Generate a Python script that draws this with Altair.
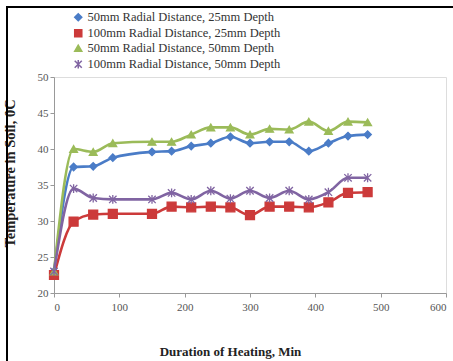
import altair as alt
import pandas as pd

minutes = [0, 30, 60, 90, 150, 180, 210, 240, 270, 300, 330, 360, 390, 420, 450, 480]
s1 = [23, 37.5, 37.6, 38.8, 39.6, 39.7, 40.4, 40.8, 41.7, 40.8, 41, 41, 39.7, 40.8, 41.8, 42]
s2 = [22.5, 29.9, 30.9, 31, 31, 32, 31.9, 32, 31.9, 30.8, 32, 32, 31.9, 32.6, 33.9, 34]
s3 = [23, 40, 39.6, 40.8, 41, 41, 42, 43, 43, 42, 42.8, 42.7, 43.8, 42.5, 43.8, 43.7]
s4 = [23, 34.5, 33.2, 33, 33, 33.9, 33, 34.2, 33.1, 34.2, 33.2, 34.2, 33, 34, 36, 36]

names = [
    "50mm Radial Distance, 25mm Depth",
    "100mm Radial Distance, 25mm Depth",
    "50mm Radial Distance, 50mm Depth",
    "100mm Radial Distance, 50mm Depth",
]
colors = ["#4a7cc7", "#cc3a3a", "#9bbb59", "#8064a2"]
shapes = ["diamond", "square", "triangle-up", "M-1,-1L1,1M-1,1L1,-1M0,-1.2L0,1.2"]
sizes = [55, 80, 60, 55]

rows = []
for name, vals, sz in zip(names, [s1, s2, s3, s4], sizes):
    for m, v in zip(minutes, vals):
        rows.append({"Minutes": m, "Temp": v, "Series": name, "Size": sz})
df = pd.DataFrame(rows)

FONT = "serif"

x = alt.X("Minutes:Q", scale=alt.Scale(domain=[0, 600], nice=False),
          axis=alt.Axis(values=[0, 100, 200, 300, 400, 500, 600], title="Duration of Heating, Min",
                        grid=False, titleFontWeight="bold", titleFontSize=13,
                        titleX=176, titleY=52, titleColor="#222", titleFont=FONT,
                        labelFontSize=11, labelColor="#555", labelFont=FONT,
                        domainColor="#999", tickColor="#999", tickSize=4, labelPadding=4))
y = alt.Y("Temp:Q", scale=alt.Scale(domain=[20, 50], nice=False),
          axis=alt.Axis(values=[20, 25, 30, 35, 40, 45, 50], title="Temperature in Soil, 0C",
                        grid=False, titleFontWeight="bold", titleFontSize=14.5,
                        titleX=-37, titleY=96, titleColor="#222", titleFont=FONT,
                        labelFontSize=11, labelColor="#555", labelFont=FONT,
                        domainColor="#999", tickColor="#999", tickSize=4, labelPadding=2))

legend = alt.Legend(orient="none", legendX=18, legendY=-66, title=None, labelFont=FONT,
                    labelFontSize=12.5, labelColor="#333", labelLimit=400,
                    rowPadding=2, labelOffset=3, symbolSize=50, padding=0)
color = alt.Color("Series:N", scale=alt.Scale(domain=names, range=colors), legend=legend)
shape = alt.Shape("Series:N", scale=alt.Scale(domain=names, range=shapes), legend=legend)
stroke = alt.Stroke("Series:N", scale=alt.Scale(domain=names, range=colors), legend=legend)

lines = alt.Chart(df).mark_line(interpolate="monotone", strokeWidth=2.6).encode(
    x=x, y=y, color=color, detail="Series:N")
points = alt.Chart(df).mark_point(filled=True, strokeWidth=1.3, opacity=1).encode(
    x=x, y=y, color=color, shape=shape, stroke=stroke,
    size=alt.Size("Size:Q", scale=None, legend=None))

frame = alt.Chart(df).mark_rect(fillOpacity=0, stroke="black", strokeWidth=2).encode(
    x=alt.value(-47), x2=alt.value(410), y=alt.value(-70), y2=alt.value(300))

chart = alt.layer(lines, points, frame).properties(
    width=392, height=216,
    autosize=alt.AutoSizeParams(type="none"),
    padding={"left": 54, "top": 77, "right": 7, "bottom": 68},
).configure_view(stroke=None).configure(background="white", font=FONT).configure_axis(
    labelFont=FONT, titleFont=FONT
).configure_legend(
    labelFont=FONT, labelFontSize=12.5, labelColor="#333", labelLimit=400,
    rowPadding=2, labelOffset=3, symbolSize=50, padding=0
)

chart.save("out.html", embed_options={"renderer": "svg", "actions": False})
